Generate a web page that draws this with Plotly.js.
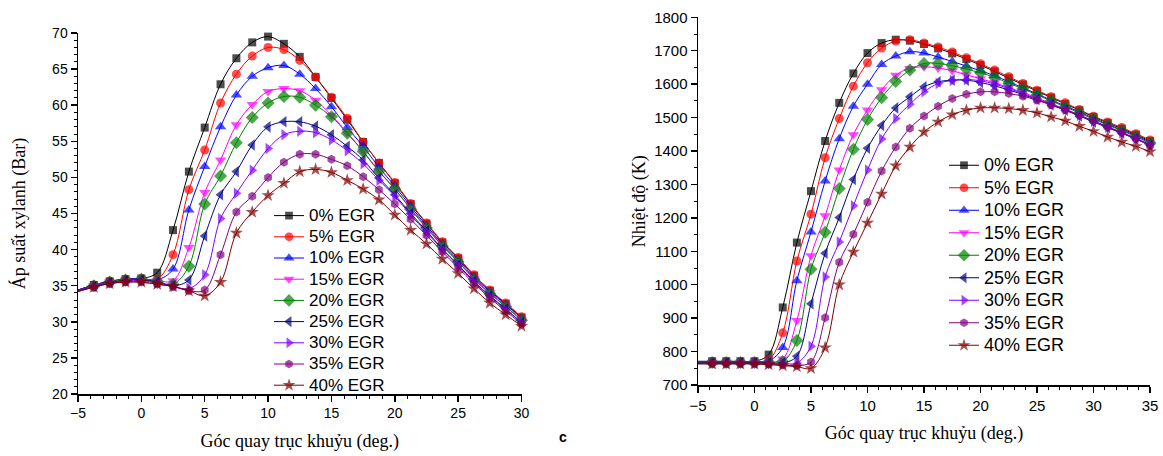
<!DOCTYPE html>
<html>
<head>
<meta charset="utf-8">
<script src="https://cdn.plot.ly/plotly-3.0.1.min.js"></script>
<style>html,body{margin:0;padding:0;background:#fff}#chart{width:1163px;height:456px}</style>
</head>
<body>
<div id="chart"></div>
<script>
// ---- data ----
const seriesNames = ["0% EGR","5% EGR","10% EGR","15% EGR","20% EGR","25% EGR","30% EGR","35% EGR","40% EGR"];

// crank angle (deg.) - left chart (pressure)
const angleP = [-5,-3.75,-2.5,-1.25,0,1.25,2.5,3.75,5,6.25,7.5,8.75,10,11.25,12.5,13.75,15,16.25,17.5,18.75,20,21.25,22.5,23.75,25,26.25,27.5,28.75,30];
// cylinder pressure (Bar)
const p0  = [34.4,35.1,35.6,35.9,36.0,36.8,42.7,50.8,56.9,62.9,66.5,68.7,69.5,68.5,66.7,63.9,61.0,58.0,54.9,52.0,49.2,46.3,43.6,41.0,38.8,36.4,34.3,32.5,30.6];
const p5  = [34.4,35.1,35.6,35.9,36.0,35.9,39.3,48.3,53.8,60.3,64.3,66.8,68.0,67.7,66.2,63.9,61.1,58.2,54.9,52.0,49.3,46.4,43.7,41.1,38.9,36.5,34.4,32.6,30.7];
const p10 = [34.4,35.1,35.6,35.9,36.0,35.8,37.3,45.5,51.5,57.0,61.4,64.0,65.2,65.5,64.3,62.3,59.8,56.9,54.3,51.4,48.8,46.0,43.3,40.8,38.6,36.2,34.2,32.4,30.5];
const p15 = [34.3,35.0,35.5,35.8,35.9,35.7,35.7,40.3,47.9,52.4,57.3,60.1,61.9,62.3,62.0,60.7,58.6,56.2,53.6,50.9,48.4,45.7,43.1,40.6,38.4,36.0,34.0,32.2,30.3];
const p20 = [34.3,35.0,35.5,35.8,35.9,35.6,35.2,37.7,46.3,50.2,54.8,58.3,60.3,61.2,61.1,60.0,58.4,56.1,53.6,50.8,48.4,45.6,43.0,40.5,38.3,35.9,33.9,32.1,30.2];
const p25 = [34.3,34.9,35.4,35.7,35.8,35.5,35.0,35.8,41.9,47.6,50.8,54.5,57.0,57.7,57.7,57.1,55.9,54.3,52.4,49.9,47.6,45.0,42.6,40.1,37.9,35.6,33.6,31.8,29.9];
const p30 = [34.3,34.9,35.4,35.6,35.7,35.4,34.9,34.6,36.5,44.3,47.8,51.0,54.0,55.9,56.4,56.2,55.2,53.7,51.9,49.6,47.4,44.8,42.4,40.0,37.8,35.5,33.5,31.7,29.9];
const p35 = [34.2,34.8,35.3,35.5,35.5,35.2,34.9,34.3,34.4,39.3,45.2,47.4,50.0,52.1,53.2,53.2,52.5,51.6,50.1,48.3,46.3,44.2,42.0,39.7,37.5,35.3,33.3,31.5,29.7];
const p40 = [34.2,34.8,35.3,35.5,35.5,35.2,34.9,34.3,33.6,35.5,42.3,45.2,47.5,49.2,50.8,51.1,50.7,49.6,48.4,46.9,44.8,42.7,40.8,38.7,36.7,34.6,32.6,31.0,29.4];

// crank angle (deg.) - right chart (temperature)
const angleT = [-5,-3.75,-2.5,-1.25,0,1.25,2.5,3.75,5,6.25,7.5,8.75,10,11.25,12.5,13.75,15,16.25,17.5,18.75,20,21.25,22.5,23.75,25,26.25,27.5,28.75,30,31.25,32.5,33.75,35];
// temperature (K)
const t0  = [771,771,771,771,771,791,932,1126,1280,1430,1544,1632,1693,1723,1733,1730,1720,1707,1692,1675,1657,1638,1618,1599,1579,1560,1541,1522,1502,1484,1467,1449,1430];
const t5  = [770,770,770,770,770,775,856,1071,1211,1380,1497,1594,1664,1708,1729,1733,1723,1711,1696,1679,1661,1642,1622,1602,1582,1562,1544,1524,1504,1487,1470,1452,1433];
const t10 = [769,769,769,769,769,772,812,1012,1158,1310,1437,1534,1600,1659,1684,1697,1693,1681,1668,1654,1640,1625,1607,1589,1571,1552,1535,1517,1498,1480,1463,1446,1427];
const t15 = [768,768,768,768,768,768,778,893,1087,1206,1343,1449,1523,1583,1627,1647,1652,1648,1640,1628,1616,1604,1590,1575,1559,1542,1526,1508,1490,1473,1456,1439,1420];
const t20 = [767,767,767,767,767,767,770,833,1046,1157,1288,1405,1494,1559,1608,1642,1662,1662,1655,1645,1634,1620,1603,1586,1568,1550,1532,1514,1495,1478,1461,1443,1424];
const t25 = [766,766,766,766,766,766,766,786,943,1094,1201,1315,1408,1476,1529,1562,1592,1607,1612,1612,1605,1595,1583,1569,1554,1538,1522,1505,1487,1470,1453,1436,1417];
const t30 = [765,765,765,765,765,765,764,766,816,1023,1128,1236,1343,1436,1497,1540,1577,1602,1611,1614,1610,1600,1587,1572,1556,1540,1524,1506,1488,1471,1454,1437,1418];
const t35 = [764,764,764,764,764,762,760,758,769,901,1067,1151,1247,1340,1412,1468,1505,1534,1557,1570,1577,1577,1572,1564,1552,1538,1523,1507,1490,1472,1455,1437,1416];
const t40 = [763,763,763,763,763,761,758,755,750,812,1000,1098,1185,1272,1356,1412,1457,1487,1509,1522,1529,1529,1527,1522,1514,1502,1490,1474,1459,1442,1427,1414,1398];

const pressure = [p0,p5,p10,p15,p20,p25,p30,p35,p40];
const temperature = [t0,t5,t10,t15,t20,t25,t30,t35,t40];

// ---- styles ----
const colors = ["#000000","#ff0000","#0000ff","#ff00ff","#008000","#000080","#8000ff","#800080","#800000"];
const symbols = ["square","circle","triangle-up","triangle-down","diamond","triangle-left","triangle-right","hexagon","star"];
const msize = [8,9,10,10,10,10,10,9,10];

function makeTraces(xs, ysList, xa, ya, leg, fs) {
  return ysList.map((ys, i) => ({
    type: "scatter", mode: "lines+markers",
    x: xs, y: ys, xaxis: xa, yaxis: ya, legend: leg,
    name: '<span style="font-size:' + fs + 'px">' + seriesNames[i] + '</span>',
    line: {color: colors[i], width: 1, shape: "spline", smoothing: 1},
    marker: {symbol: symbols[i], color: colors[i],
             size: xs.map((v, k) => k === 0 ? 0 : msize[i]), line: {width: 0}},
    cliponaxis: false
  }));
}

const data = [].concat(
  makeTraces(angleP, pressure, "x", "y", "legend", 17),
  makeTraces(angleT, temperature, "x2", "y2", "legend2", 18)
);

const W = 1163, H = 456;
const tickFont = {family: "Liberation Sans, Arial, sans-serif", size: 14, color: "#000"};
const titleFont = {family: "Liberation Serif, Times New Roman, serif", size: 18, color: "#000"};
function axisBase(extra) {
  return Object.assign({
    showline: true, linecolor: "#000", linewidth: 1.5, mirror: false,
    showgrid: false, zeroline: false,
    ticks: "outside", ticklen: 6, tickwidth: 1.5, tickcolor: "#000",
    tickfont: tickFont, automargin: false
  }, extra);
}

const layout = {
  width: W, height: H,
  margin: {l: 0, r: 0, t: 0, b: 0},
  paper_bgcolor: "#fff", plot_bgcolor: "#fff",
  showlegend: true,
  xaxis: axisBase({domain: [78/W, 521.5/W], anchor: "y", range: [-5, 30], tick0: 0, dtick: 5,
    minor: {dtick: 1, ticks: "outside", ticklen: 3, tickwidth: 1, tickcolor: "#000", showgrid: false},
    title: {text: "Góc quay trục khuỷu (deg.)", font: titleFont, standoff: 14}}),
  yaxis: axisBase({domain: [1 - 394/H, 1 - 33/H], anchor: "x", range: [20, 70], tick0: 20, dtick: 5,
    minor: {dtick: 1, ticks: "outside", ticklen: 3, tickwidth: 1, tickcolor: "#000", showgrid: false},
    title: {text: "Áp suất xylanh (Bar)", font: titleFont, standoff: 22}}),
  xaxis2: axisBase({domain: [698/W, 1150/W], anchor: "y2", range: [-5, 35], tick0: 0, dtick: 5,
    tickfont: Object.assign({}, tickFont, {size: 15}),
    minor: {dtick: 1, ticks: "outside", ticklen: 3, tickwidth: 1, tickcolor: "#000", showgrid: false},
    title: {text: "Góc quay trục khuỷu (deg.)", font: titleFont, standoff: 14}}),
  yaxis2: axisBase({domain: [1 - 385/H, 1 - 17.3/H], anchor: "x2", range: [700, 1800], tick0: 700, dtick: 100,
    tickfont: Object.assign({}, tickFont, {size: 15}),
    minor: {dtick: 50, ticks: "outside", ticklen: 3, tickwidth: 1, tickcolor: "#000", showgrid: false},
    title: {text: "Nhiệt độ (K)", font: titleFont, standoff: 4}}),
  legend: {x: 269/W, y: 1 - 200/H, xanchor: "left", yanchor: "top",
    bgcolor: "rgba(0,0,0,0)", font: {family: "Liberation Sans, Arial, sans-serif", size: 14, color: "#000"}},
  legend2: {x: 944/W, y: 1 - 149/H, xanchor: "left", yanchor: "top",
    bgcolor: "rgba(0,0,0,0)", font: {family: "Liberation Sans, Arial, sans-serif", size: 15, color: "#000"}},
  annotations: [{text: "<b>c</b>", x: 563/W, y: 1 - 437/H, xref: "paper", yref: "paper",
    showarrow: false, xanchor: "center", yanchor: "middle",
    font: {family: "Liberation Sans, Arial, sans-serif", size: 14, color: "#000"}}]
};

Plotly.newPlot("chart", data, layout, {displayModeBar: false, staticPlot: true});
</script>
</body>
</html>
